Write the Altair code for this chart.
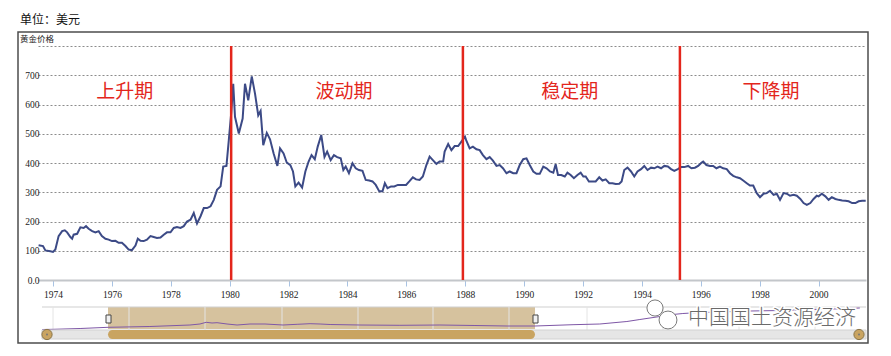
import altair as alt
import pandas as pd

# ---------------- data ----------------
years = [1973.51, 1973.66, 1973.74, 1973.91, 1974.00, 1974.08, 1974.19, 1974.31, 1974.40, 1974.48,
         1974.59, 1974.65, 1974.70, 1974.82, 1974.93, 1975.04, 1975.12, 1975.21, 1975.33, 1975.44,
         1975.55, 1975.66, 1975.78, 1975.89, 1976.00, 1976.12, 1976.23, 1976.34, 1976.46, 1976.57,
         1976.68, 1976.80, 1976.88, 1976.97, 1977.08, 1977.19, 1977.31, 1977.42, 1977.53, 1977.65,
         1977.76, 1977.87, 1977.99, 1978.10, 1978.21, 1978.33, 1978.44, 1978.55, 1978.67, 1978.78,
         1978.89, 1979.01, 1979.12, 1979.23, 1979.35, 1979.46, 1979.57, 1979.69, 1979.78, 1979.89,
         1979.97, 1980.05, 1980.12, 1980.18, 1980.31, 1980.44, 1980.52, 1980.63, 1980.75, 1980.86,
         1980.97, 1981.05, 1981.14, 1981.26, 1981.37, 1981.49, 1981.62, 1981.71, 1981.83, 1981.94,
         1982.06, 1982.15, 1982.23, 1982.34, 1982.46, 1982.57, 1982.68, 1982.78, 1982.89, 1982.99,
         1983.11, 1983.22, 1983.31, 1983.43, 1983.54, 1983.65, 1983.77, 1983.86, 1983.94, 1984.05,
         1984.17, 1984.28, 1984.39, 1984.51, 1984.62, 1984.74, 1984.85, 1984.96, 1985.08, 1985.19,
         1985.27, 1985.36, 1985.48, 1985.59, 1985.71, 1985.82, 1985.99, 1986.10, 1986.22, 1986.33,
         1986.45, 1986.56, 1986.68, 1986.79, 1986.90, 1987.02, 1987.13, 1987.25, 1987.30, 1987.42,
         1987.53, 1987.64, 1987.76, 1987.87, 1987.99, 1988.03, 1988.15, 1988.26, 1988.38, 1988.49,
         1988.60, 1988.72, 1988.83, 1988.94, 1989.06, 1989.17, 1989.28, 1989.40, 1989.51, 1989.63,
         1989.74, 1989.85, 1989.97, 1990.08, 1990.19, 1990.31, 1990.42, 1990.53, 1990.65, 1990.76,
         1990.88, 1990.99, 1991.07, 1991.15, 1991.26, 1991.38, 1991.47, 1991.58, 1991.69, 1991.81,
         1991.92, 1992.01, 1992.09, 1992.20, 1992.32, 1992.43, 1992.55, 1992.66, 1992.77, 1992.89,
         1993.00, 1993.11, 1993.23, 1993.31, 1993.40, 1993.51, 1993.63, 1993.74, 1993.85, 1993.97,
         1994.08, 1994.19, 1994.31, 1994.42, 1994.53, 1994.65, 1994.76, 1994.88, 1994.99, 1995.10,
         1995.22, 1995.33, 1995.44, 1995.57, 1995.68, 1995.80, 1995.91, 1996.02, 1996.08, 1996.19,
         1996.31, 1996.42, 1996.53, 1996.65, 1996.76, 1996.88, 1996.99, 1997.10, 1997.22, 1997.33,
         1997.44, 1997.56, 1997.67, 1997.78, 1997.90, 1998.01, 1998.13, 1998.24, 1998.35, 1998.47,
         1998.58, 1998.69, 1998.81, 1998.92, 1999.03, 1999.15, 1999.26, 1999.38, 1999.49, 1999.60,
         1999.72, 1999.83, 1999.94, 2000.00, 2000.11, 2000.23, 2000.34, 2000.45, 2000.57, 2000.68,
         2000.80, 2000.91, 2001.02, 2001.14, 2001.25, 2001.36, 2001.48, 2001.60]
prices = [119, 116, 101, 98, 96, 104, 150, 167, 170, 163,
          147, 141, 155, 158, 180, 178, 184, 175, 167, 163,
          167, 150, 141, 138, 133, 134, 127, 127, 116, 104,
          102, 118, 141, 134, 133, 138, 150, 147, 144, 145,
          155, 163, 163, 178, 181, 178, 184, 200, 206, 229,
          193, 218, 246, 246, 252, 274, 308, 320, 388, 390,
          478, 569, 671, 558, 501, 552, 671, 614, 696, 637,
          563, 578, 461, 503, 481, 433, 390, 450, 433, 401,
          393, 371, 320, 333, 316, 371, 405, 427, 413, 456,
          496, 421, 439, 410, 427, 420, 416, 376, 388, 365,
          399, 382, 376, 373, 342, 340, 337, 325, 303, 303,
          331, 314, 320, 320, 325, 325, 325, 337, 351, 344,
          342, 354, 393, 422, 410, 397, 405, 405, 439, 465,
          444, 458, 458, 473, 490, 478, 450, 456, 447, 444,
          427, 413, 420, 408, 390, 393, 382, 365, 371, 365,
          365, 393, 413, 416, 393, 371, 363, 363, 388, 382,
          371, 367, 396, 359, 359, 354, 367, 359, 348, 359,
          367, 354, 354, 337, 337, 337, 351, 340, 344, 331,
          331, 328, 329, 337, 376, 384, 371, 354, 371, 379,
          390, 376, 384, 382, 388, 382, 390, 388, 379, 373,
          379, 386, 386, 390, 382, 384, 390, 401, 405, 393,
          390, 390, 382, 388, 382, 379, 365, 356, 351, 348,
          340, 331, 323, 323, 297, 283, 295, 297, 305, 291,
          295, 274, 297, 295, 288, 291, 288, 277, 263, 257,
          263, 277, 288, 286, 295, 286, 274, 283, 277, 274,
          272, 271, 269, 263, 263, 269, 271, 271]

phase_break_years = [1980.05, 1987.92, 1995.29]
phase_labels = ["上升期", "波动期", "稳定期", "下降期"]
phase_label_years = [1976.44, 1983.88, 1991.55, 1998.38]
phase_label_values = [644, 644, 644, 644]

y_tick_values = [0, 100, 200, 300, 400, 500, 600, 700, 800]
x_tick_values = [1974, 1976, 1978, 1980, 1982, 1984, 1986, 1988, 1990, 1992, 1994, 1996, 1998, 2000]

unit_text = ["单位：美元"]
axis_title_text = ["黄金价格"]
watermark_text = ["中国国土资源经济"]

# navigator mini series (height inside the navigator strip)
nav_years = [1973.63, 1974.00, 1974.92, 1975.87, 1977.29, 1978.65, 1978.99, 1979.20, 1979.40, 1979.57,
             1979.91, 1980.25, 1980.69, 1981.20, 1981.81, 1982.29, 1982.73, 1983.07, 1983.41, 1984.42,
             1985.78, 1987.14, 1988.33, 1989.42, 1990.37, 1991.66, 1992.57, 1993.49, 1993.93, 1994.61,
             1995.05, 1995.39, 1995.97, 1996.65, 1997.67, 1998.69, 1999.70, 2000.49, 2001.40]
nav_values = [0.5, 0.7, 1.5, 2.7, 3.5, 5.0, 6.0, 7.7, 7.0, 7.3,
              6.0, 5.0, 6.0, 6.0, 5.0, 5.7, 6.3, 6.0, 5.5, 5.0,
              4.7, 5.0, 4.5, 4.0, 4.0, 5.3, 6.0, 8.5, 10.5, 13.5,
              15.5, 16.5, 17.5, 18.0, 19.0, 19.5, 20.5, 21.0, 22.0]

# ---------------- styling ----------------
SERIF = "Liberation Serif"
CJK = "Noto Sans CJK SC"
RED = "#e3261c"
NAVY = "#3c4a86"

price_df = pd.DataFrame({"year": years, "price": prices})
break_df = pd.DataFrame({"year": phase_break_years,
                         "lo": [0] * len(phase_break_years),
                         "hi": [800] * len(phase_break_years)})
label_df = pd.DataFrame({"year": phase_label_years, "value": phase_label_values, "label": phase_labels})
nav_df = pd.DataFrame({"year": nav_years, "nav": nav_values})

x_scale = alt.Scale(domain=[1973.49, 2001.61], nice=False, zero=False)
y_scale = alt.Scale(domain=[0, 800], nice=False)

x_axis = alt.Axis(
    values=x_tick_values, format="d", title=None, grid=False,
    domainColor="#c3c6ca", domainWidth=2, tickColor="#a9c3e3", tickSize=6, tickWidth=1,
    labelFont=SERIF, labelFontSize=9.5, labelColor="#222", labelPadding=3, labelFlush=False,
    labelOverlap=False)
y_axis = alt.Axis(
    values=y_tick_values, title=None, domain=False, ticks=False,
    labelExpr="datum.value == 0 ? '0.0' : (datum.value == 800 ? '' : datum.label)",
    labelFont=SERIF, labelFontSize=9.5, labelColor="#222", labelPadding=-1,
    labelOverlap=False,
    grid=True, gridColor="#8c8c8c", gridDash=[2, 2], gridWidth=1)

line = alt.Chart(price_df).mark_line(color=NAVY, strokeWidth=2, clip=False).encode(
    x=alt.X("year:Q", scale=x_scale, axis=x_axis),
    y=alt.Y("price:Q", scale=y_scale, axis=y_axis),
)

rules = alt.Chart(break_df).mark_rule(color=RED, strokeWidth=2.5).encode(
    x=alt.X("year:Q", scale=x_scale, axis=x_axis),
    y=alt.Y("lo:Q", scale=y_scale, axis=y_axis), y2="hi:Q")

labels = alt.Chart(label_df).mark_text(font=CJK, fontSize=19, color=RED).encode(
    x=alt.X("year:Q", scale=x_scale, axis=x_axis),
    y=alt.Y("value:Q", scale=y_scale, axis=y_axis), text="label:N")

main = alt.layer(line, rules, labels)

# navigator chrome (view-pixel positions)
one = pd.DataFrame({"k": [0]})
frame = alt.Chart(one).mark_rect(filled=False, stroke="#4d4d4d", strokeWidth=1.5).encode(
    x=alt.value(-20), x2=alt.value(830), y=alt.value(-14), y2=alt.value(297))
nav_sel = alt.Chart(one).mark_rect(color="#d6c29e").encode(
    x=alt.value(70), x2=alt.value(497), y=alt.value(261), y2=alt.value(283))
nav_top = alt.Chart(one).mark_rule(color="#cfcfcf", strokeWidth=1).encode(
    x=alt.value(4), x2=alt.value(828), y=alt.value(261))
grid_df = pd.DataFrame({"gx": [15, 91, 167, 244, 320, 395, 471, 549, 625, 701, 777]})
nav_grid = alt.Chart(grid_df).mark_rule(color="#e4e4e4", strokeWidth=1).encode(
    x=alt.X("gx:Q", scale=None), y=alt.value(261), y2=alt.value(284))
track = alt.Chart(one).mark_rect(color="#e6e6e6", stroke="#d2d2d2", strokeWidth=1).encode(
    x=alt.value(4), x2=alt.value(828), y=alt.value(284), y2=alt.value(293))
thumb = alt.Chart(one).mark_rect(color="#c9a461", cornerRadius=4.5).encode(
    x=alt.value(70), x2=alt.value(497), y=alt.value(284), y2=alt.value(293))
handle_df = pd.DataFrame({"hx": [68, 495]})
handles = alt.Chart(handle_df).mark_rect(color="#f0f0f0", stroke="#444", strokeWidth=1).encode(
    x=alt.X("hx:Q", scale=None), x2=alt.X2("hx2:Q"), y=alt.value(269), y2=alt.value(277)
).transform_calculate(hx2="datum.hx + 5")
circ_df = pd.DataFrame({"cx": [9, 821]})
circles = alt.Chart(circ_df).mark_point(shape="circle", filled=True, size=105, color="#c9a461",
                                        stroke="#8a7445", strokeWidth=1, opacity=1).encode(
    x=alt.X("cx:Q", scale=None), y=alt.value(288.5))
dots = alt.Chart(circ_df).mark_point(shape="circle", filled=True, size=4, color="#777", opacity=1).encode(
    x=alt.X("cx:Q", scale=None), y=alt.value(288.5))

nav_line = alt.Chart(nav_df).mark_line(color="#7e57a6", strokeWidth=1).encode(
    x=alt.X("year:Q", scale=x_scale, axis=x_axis),
    y=alt.Y("nav:Q", scale=alt.Scale(domain=[0, 23], range=[284, 261], nice=False, zero=False), axis=None))

unit = alt.Chart(pd.DataFrame({"t": unit_text})).mark_text(
    font=CJK, fontSize=12, color="#111", align="left", baseline="middle").encode(
    x=alt.value(-18), y=alt.value(-26), text="t:N")
ytitle = alt.Chart(pd.DataFrame({"t": axis_title_text})).mark_text(
    font=CJK, fontSize=8.5, color="#222", align="left", baseline="middle").encode(
    x=alt.value(-18), y=alt.value(-7), text="t:N")

bub_df = pd.DataFrame({"bx": [617, 630], "by": [262, 274], "bs": [260, 320]})
bubbles = alt.Chart(bub_df).mark_point(shape="circle", filled=True, color="white",
                                       stroke="#7a7a7a", strokeWidth=1, opacity=1).encode(
    x=alt.X("bx:Q", scale=None), y=alt.Y("by:Q", scale=None),
    size=alt.Size("bs:Q", scale=None, legend=None))
wm_halo = alt.Chart(pd.DataFrame({"t": watermark_text})).mark_text(
    font=CJK, fontSize=21, fontWeight=300, color="white", stroke="white", strokeWidth=3,
    align="center", baseline="middle").encode(x=alt.value(734), y=alt.value(272), text="t:N")
wm = alt.Chart(pd.DataFrame({"t": watermark_text})).mark_text(
    font=CJK, fontSize=21, fontWeight=300, color="#6a6a6a",
    align="center", baseline="middle").encode(x=alt.value(734), y=alt.value(272), text="t:N")

chart = alt.layer(
    main, nav_sel, nav_top, nav_grid, nav_line, track, thumb, handles, circles, dots,
    frame, unit, ytitle, bubbles, wm_halo, wm
).resolve_scale(y="independent").properties(
    width=828, height=234,
    padding={"left": 30, "top": 38, "right": 17, "bottom": 68},
    autosize=alt.AutoSizeParams(type="none"),
    background="white",
).configure_view(stroke=None)

chart.save("out.html", embed_options={"renderer": "svg", "actions": False})
